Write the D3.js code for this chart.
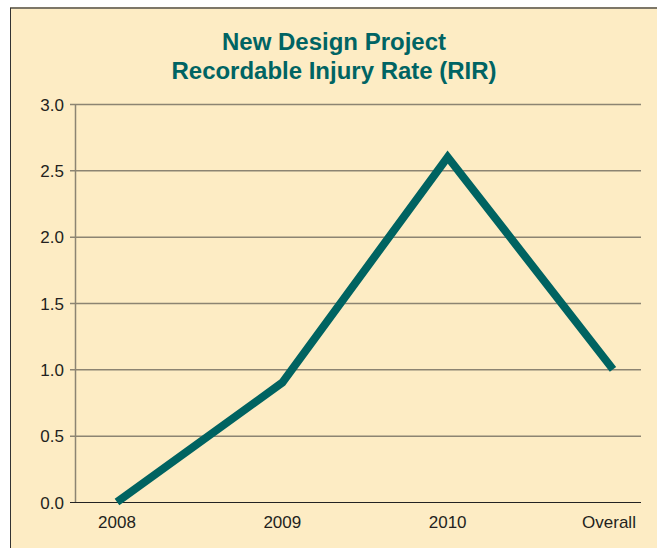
<!DOCTYPE html>
<html>
<head>
<meta charset="utf-8">
<script src="https://cdn.jsdelivr.net/npm/d3@7"></script>
<style>
  body { margin: 0; background: #fff; }
  svg { display: block; font-family: "Liberation Sans", Arial, sans-serif; }
</style>
</head>
<body>
<svg id="chart" width="657" height="548"></svg>
<script>
// chart data
const categories = ['2008', '2009', '2010', 'Overall'];
const rirValues = [0, 0.9, 2.6, 1.0];
const yTicks = [0, 0.5, 1.0, 1.5, 2.0, 2.5, 3.0];
const titleLines = ['New Design Project', 'Recordable Injury Rate (RIR)'];

const colors = {
  panel: '#fdecc4',
  border: '#7d7768',
  grid: '#8c8472',
  line: '#006361',
  title: '#006463',
  text: '#231f20',
};

const svg = d3.select('#chart');

// panel background with top/left frame
svg.append('rect')
  .attr('x', 10).attr('y', 8)
  .attr('width', 657).attr('height', 548)
  .attr('fill', colors.panel);
svg.append('line')
  .attr('x1', 10).attr('x2', 657).attr('y1', 8).attr('y2', 8)
  .attr('stroke', colors.border).attr('stroke-width', 2);
svg.append('line')
  .attr('x1', 10.5).attr('x2', 10.5).attr('y1', 8).attr('y2', 548)
  .attr('stroke', '#333').attr('stroke-width', 1);

// title
svg.append('text')
  .attr('text-anchor', 'middle')
  .attr('fill', colors.title)
  .style('font-weight', 'bold')
  .style('font-size', '23px')
  .selectAll('tspan')
  .data(titleLines)
  .join('tspan')
  .attr('x', 334)
  .attr('y', (d, i) => 50 + i * 29)
  .attr('textLength', (d, i) => i === 0 ? 224 : 325)
  .attr('lengthAdjust', 'spacingAndGlyphs')
  .text(d => d);

const plot = { left: 75, right: 641, top: 104, bottom: 502 };

const x = d3.scalePoint()
  .domain(categories)
  .range([117, 613]);

const y = d3.scaleLinear()
  .domain([0, 3])
  .range([plot.bottom, plot.top]);

// gridlines + y axis
const yAxis = svg.append('g')
  .attr('transform', `translate(${plot.left},0)`)
  .call(d3.axisLeft(y)
    .tickValues(yTicks)
    .tickFormat(d3.format('.1f'))
    .tickSize(5)
    .tickPadding(6));
yAxis.select('.domain').remove();
yAxis.selectAll('.tick line')
  .attr('x2', plot.right - plot.left)
  .attr('x1', -5)
  .attr('stroke', d => d === 0 ? '#222' : colors.grid)
  .attr('stroke-width', d => d === 0 ? 1.2 : 1.5);
yAxis.selectAll('.tick text')
  .attr('fill', colors.text)
  .attr('dy', '0.36em')
  .style('font-size', '17px')
  .style('font-family', '"Liberation Sans", Arial, sans-serif');

svg.append('line')
  .attr('x1', plot.left + 0.5).attr('x2', plot.left + 0.5)
  .attr('y1', plot.top).attr('y2', plot.bottom)
  .attr('stroke', colors.grid).attr('stroke-width', 1.5);

// x labels
svg.append('g')
  .selectAll('text')
  .data(categories)
  .join('text')
  .attr('x', d => x(d) + (d === 'Overall' ? -4 : 0))
  .attr('y', 528)
  .attr('text-anchor', 'middle')
  .attr('fill', colors.text)
  .style('font-size', '17px')
  .text(d => d);

// series line
const line = d3.line()
  .x((d, i) => x(categories[i]))
  .y(d => y(d));

svg.append('path')
  .datum(rirValues)
  .attr('d', line)
  .attr('fill', 'none')
  .attr('stroke', colors.line)
  .attr('stroke-width', 8)
  .attr('stroke-linejoin', 'miter');
</script>
</body>
</html>
